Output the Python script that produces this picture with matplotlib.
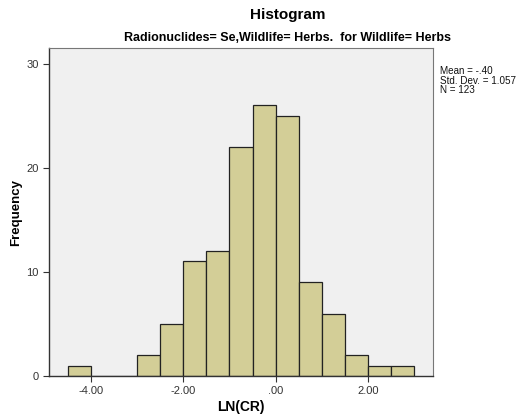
import matplotlib
matplotlib.use("Agg")
import matplotlib.pyplot as plt
import numpy as np

plt.rcParams['font.family'] = ['Liberation Sans', 'DejaVu Sans']

# histogram bins (width 0.5) and counts
bin_edges = np.arange(-4.5, 3.01, 0.5)
counts = [1, 0, 0, 2, 5, 11, 12, 22, 26, 25, 9, 6, 2, 1, 1]
x_ticks = [-4, -2, 0, 2]
x_tick_labels = ["-4.00", "-2.00", ".00", "2.00"]
y_ticks = [0, 10, 20, 30]
stats_text = "Mean = -.40\nStd. Dev. = 1.057\nN = 123"

fig = plt.figure(figsize=(5.17, 4.18), dpi=100)
ax = fig.add_axes([49 / 517, 42 / 418, 384 / 517, 328 / 418])
ax.set_facecolor('#F0F0F0')

ax.bar(bin_edges[:-1], counts, width=0.5, align='edge',
       color='#D3CE97', edgecolor='#222222', linewidth=0.9)

ax.set_xlim(-4.91, 3.41)
ax.set_ylim(0, 31.5)
ax.set_xticks(x_ticks)
ax.set_xticklabels(x_tick_labels)
ax.set_yticks(y_ticks)
ax.tick_params(axis='both', direction='out', length=4, width=0.8,
               labelsize=8, labelcolor='#333333', color='#333333')

for side in ['top', 'right']:
    ax.spines[side].set_color('#777777')
    ax.spines[side].set_linewidth(0.8)
for side in ['left', 'bottom']:
    ax.spines[side].set_color('#333333')
    ax.spines[side].set_linewidth(1.0)

ax.set_xlabel("LN(CR)", fontsize=10, fontweight='bold')
ax.set_ylabel("Frequency", fontsize=9.5, fontweight='bold')
ax.xaxis.set_label_coords(0.5, -0.072)
ax.yaxis.set_label_coords(-0.07, 0.5)

fig.text(288 / 517, 1 - 15 / 418, "Histogram", ha='center', va='center',
         fontsize=11, fontweight='bold')
fig.text(288 / 517, 1 - 38 / 418,
         "Radionuclides= Se,Wildlife= Herbs.  for Wildlife= Herbs",
         ha='center', va='center', fontsize=9, fontweight='bold')
fig.text(440 / 517, 1 - 66 / 418, stats_text, ha='left', va='top',
         fontsize=7.1, linespacing=0.95, color='#111111')

plt.savefig("out.png", dpi=100)
